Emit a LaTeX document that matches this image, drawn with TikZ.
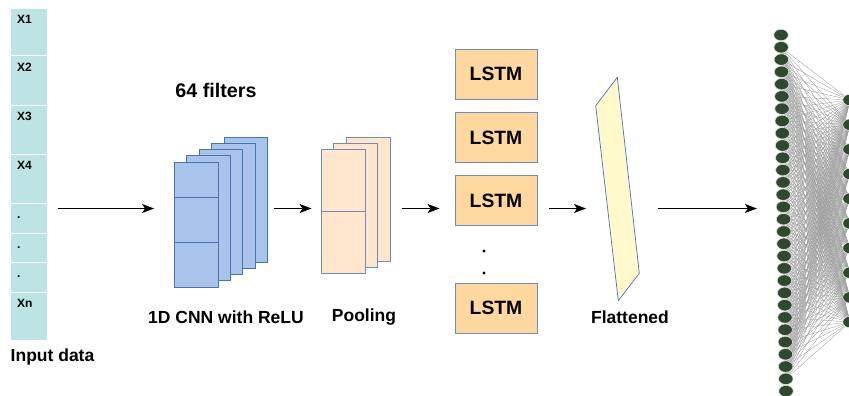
\documentclass[tikz,border=0pt]{standalone}
\usepackage{fontspec}
\setmainfont{Liberation Sans}
\usepackage{tikz}
\usetikzlibrary{positioning}
\usetikzlibrary{arrows.meta,backgrounds,shapes.geometric}
\definecolor{cellTeal}{HTML}{BDE4E4}
\definecolor{cnnBlue}{HTML}{A9C4EB}
\definecolor{cnnEdge}{HTML}{4A73B3}
\definecolor{poolPeach}{HTML}{FFE6CC}
\definecolor{lstmOrange}{HTML}{FFD8A0}
\definecolor{boxEdge}{HTML}{6C8EBF}
\definecolor{flatYellow}{HTML}{FFF9CC}
\definecolor{neuronGreen}{HTML}{2E4A2D}
\tikzset{
	inCell/.style={fill=cellTeal, draw=white, line width=1pt, minimum width=37pt, inner sep=0pt},
	cellText/.style={font=\fontsize{12}{14}\selectfont\bfseries, anchor=base west, inner sep=0pt},
	lbl/.style={font=\fontsize{17.5}{20}\selectfont\bfseries, inner sep=0pt}
}
\tikzset{
	sheetCnn/.style={fill=cnnBlue, draw=cnnEdge, line width=0.9pt, minimum width=43.5pt, minimum height=125pt, inner sep=0pt},
	sheetPool/.style={fill=poolPeach, draw=boxEdge, line width=0.9pt, minimum width=44pt, minimum height=124pt, inner sep=0pt},
	lstmBox/.style={fill=lstmOrange, draw=boxEdge, line width=0.9pt, minimum width=82pt, minimum height=50pt, font=\fontsize{19.3}{22}\selectfont\bfseries},
	flow/.style={line width=0.9pt, -{Stealth[length=12pt,width=9pt,inset=3pt]}}
}
\tikzset{
	neuron/.style={ellipse, fill=neuronGreen, draw=gray!25, line width=0.6pt, minimum width=14.5pt, minimum height=11.5pt, inner sep=0pt},
	synapse/.style={draw=gray!75, line width=0.35pt}
}

\begin{document}
\begin{tikzpicture}[x=1pt, y=-1pt]
	\useasboundingbox (0,0) rectangle (849,396);
	\coordinate (row) at (0,208.5);
	% input column
	\foreach \t/\b/\name [count=\i] in {8.3/56/X1, 56/105/X2, 105/154/X3, 154/203/X4, 203/233/., 233/262/., 262/292/., 292/340/Xn}{
		\pgfmathsetmacro{\h}{\b-\t}
		\node[inCell, minimum height=\h pt] (in\i) at (28.5,{(\t+\b)/2}) {};
		\node[cellText] (lab\i) at ([xshift=7.5pt,yshift=-16pt]in\i.north west) {\name};
	}
	\node[lbl, anchor=west] (inTitle) at (10.5,357) {Input data};

	% convolution sheets
	\foreach \k in {4,3,2,1,0}
		\node[sheetCnn] (cnn\k) at ({196.25+12.4*\k},{224.5-6.25*\k}) {};
	\draw[cnnEdge, line width=0.9pt] ([yshift=-36pt]cnn0.north west) -- ([yshift=-36pt]cnn0.north east);
	\draw[cnnEdge, line width=0.9pt] ([yshift=-81pt]cnn0.north west) -- ([yshift=-81pt]cnn0.north east);
	\node[font=\fontsize{19.7}{22}\selectfont\bfseries] (filters) at (216,90) {64 filters};
	\node[lbl] (cnnTitle) at (226,317) {1D CNN with ReLU};

	% pooling sheets
	\foreach \k in {2,1,0}
		\node[sheetPool] (pool\k) at ({343+12.5*\k},{211-6*\k}) {};
	\draw[boxEdge, line width=0.9pt] (pool0.west) -- (pool0.east);
	\node[lbl] (poolTitle) at (364,317) {Pooling};

	% lstm column
	\node[lstmBox] (lstm1) at (496,74) {LSTM};
	\node[lstmBox, below=12.5pt of lstm1] (lstm2) {LSTM};
	\node[lstmBox, below=12.5pt of lstm2] (lstm3) {LSTM};
	\node[lstmBox] (lstm4) at (496,308) {LSTM};
	\node[circle, fill, inner sep=0pt, minimum size=3.2pt] (dot1) at (484,251) {};
	\node[circle, fill, inner sep=0pt, minimum size=3.2pt] (dot2) at (484,273) {};

	% flattened layer
	\coordinate (fTL) at (595.7,105.7);
	\coordinate (fTR) at (617.3,77.3);
	\coordinate (fBR) at (639.3,273.3);
	\coordinate (fBL) at (618.3,300.7);
	\filldraw[fill=flatYellow, draw=cnnEdge, line width=0.7pt] (fTL) -- (fTR) -- (fBR) -- (fBL) -- cycle;
	\coordinate (flatIn) at (586,208.5);
	\coordinate (flatOut) at (658,208.5);
	\node[lbl] (flatTitle) at (630,317) {Flattened};

	% dense layers
	\foreach \i in {1,...,30}
		\node[neuron] (nl\i) at ({781+5*(\i-1)/29},{35+12.28*(\i-1)}) {};
	\foreach \j in {1,...,10}
		\node[neuron] (nr\j) at (850,{100+24.67*(\j-1)}) {};
	\begin{scope}[on background layer]
		\foreach \i in {2,...,29}
			\foreach \j in {1,...,10}
				\draw[synapse] (nl\i) -- (nr\j);
	\end{scope}

	\draw[flow, shorten <=10pt, shorten >=20pt] (in5.east |- row) -- (cnn0.west |- row);
	\draw[flow, shorten <=6pt, shorten >=9pt] (cnn4.east |- row) -- (pool0.west |- row);
	\draw[flow, shorten <=12pt, shorten >=15pt] (pool2.east |- row) -- (lstm3.west |- row);
	\draw[flow, shorten <=12pt] (lstm3.east |- row) -- (flatIn);
	\draw[flow, shorten >=19pt] (flatOut) -- (nl15.west |- row);
\end{tikzpicture}
\end{document}
